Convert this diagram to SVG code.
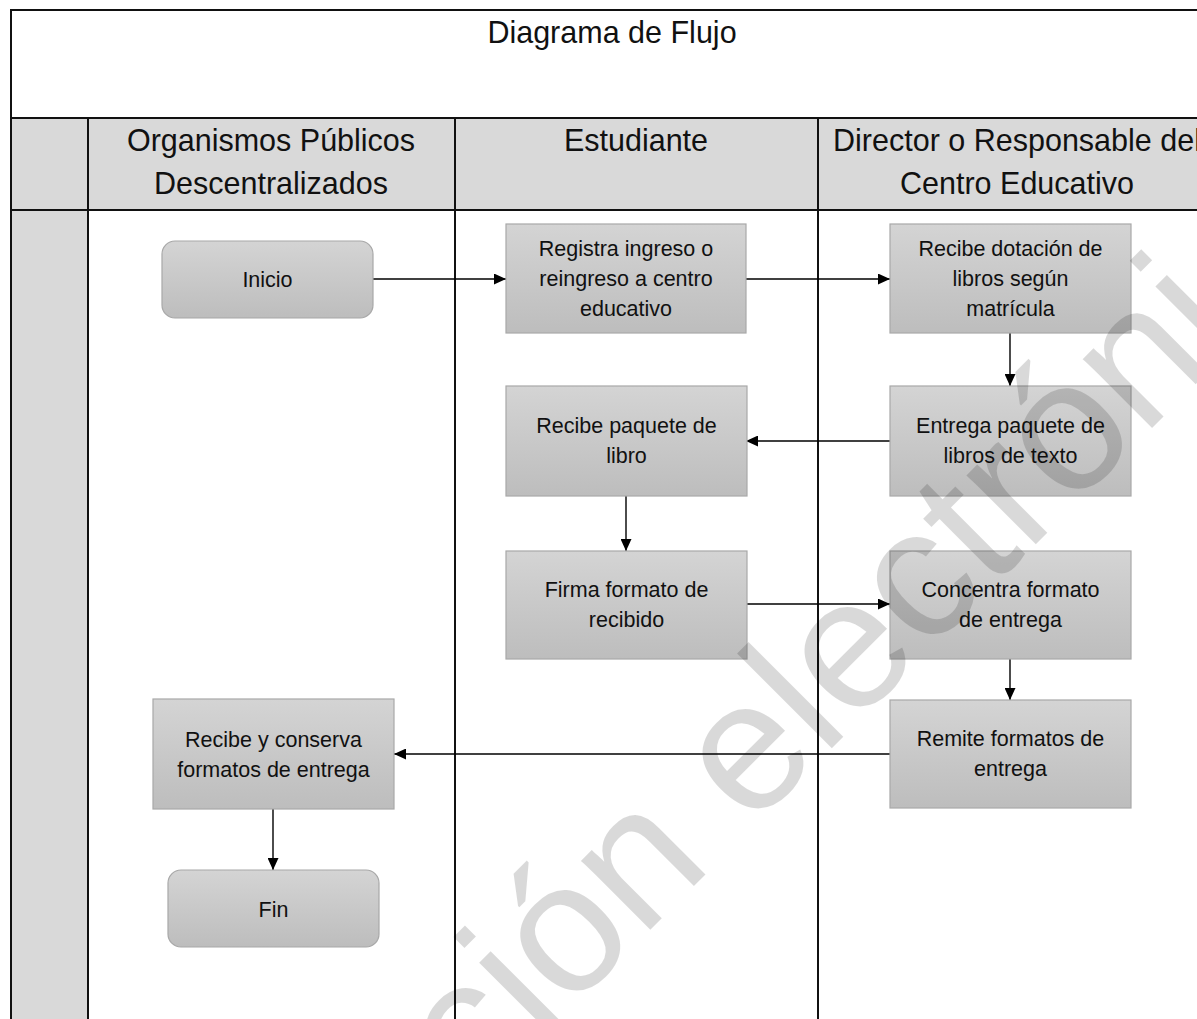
<svg xmlns="http://www.w3.org/2000/svg" width="1197" height="1019" viewBox="0 0 1197 1019">
<defs>
<linearGradient id="g" x1="0" y1="0" x2="0" y2="1"><stop offset="0" stop-color="#d4d4d4"/><stop offset="1" stop-color="#bdbdbd"/></linearGradient>
<marker id="arr" viewBox="0 0 12 11" refX="12" refY="5.5" markerWidth="12" markerHeight="11" markerUnits="userSpaceOnUse" orient="auto"><path d="M0,0 L12,5.5 L0,11 Z" fill="#000"/></marker>
</defs>
<style>
.lane{stroke:#111;stroke-width:2;fill:none}
.hdr{font-family:"Liberation Sans",Arial,sans-serif;font-size:30.5px;fill:#111;text-anchor:middle}
.box{fill:url(#g);stroke:#a8a8a8;stroke-width:1.2}
.lbl{font-family:"Liberation Sans",Arial,sans-serif;font-size:21.5px;fill:#111;text-anchor:middle}
.con{stroke:#000;stroke-width:1.4;fill:none;marker-end:url(#arr)}
.wm{font-family:"Liberation Sans",Arial,sans-serif;font-size:185px;fill:#000;fill-opacity:0.15}
</style>
<rect x="0" y="0" width="1197" height="1019" fill="#fff"/>
<g id="swimlanes">
<rect x="11" y="118" width="77" height="910" fill="#d9d9d9"/>
<rect x="88" y="118" width="1120" height="92" fill="#d9d9d9"/>
<path class="lane" d="M11,1025 V10 H1205 M11,118 H1205 M11,210 H1205 M88,118 V1025 M455,118 V1025 M818,118 V1025"/>
<text class="hdr" x="612" y="43">Diagrama de Flujo</text>
<text class="hdr" x="271" y="151">Organismos Públicos</text>
<text class="hdr" x="271" y="194">Descentralizados</text>
<text class="hdr" x="636" y="151">Estudiante</text>
<text class="hdr" x="1017" y="151">Director o Responsable del</text>
<text class="hdr" x="1017" y="194">Centro Educativo</text>
</g>
<g id="connectors">
<line class="con" x1="373" y1="279" x2="506" y2="279"/>
<line class="con" x1="745" y1="279" x2="890" y2="279"/>
<line class="con" x1="1010" y1="333" x2="1010" y2="386"/>
<line class="con" x1="890" y1="441" x2="746" y2="441"/>
<line class="con" x1="626" y1="496" x2="626" y2="551"/>
<line class="con" x1="747" y1="604" x2="890" y2="604"/>
<line class="con" x1="1010" y1="659" x2="1010" y2="700"/>
<line class="con" x1="890" y1="754" x2="394" y2="754"/>
<line class="con" x1="273" y1="809" x2="273" y2="870"/>
</g>
<g id="n_inicio"><rect class="box" x="162" y="241" width="211" height="77" rx="13"/><text class="lbl" x="267.5" y="286.5">Inicio</text></g>
<g id="n_registra"><rect class="box" x="506" y="224" width="240" height="109"/><text class="lbl" x="626" y="256">Registra ingreso o</text><text class="lbl" x="626" y="286">reingreso a centro</text><text class="lbl" x="626" y="316">educativo</text></g>
<g id="n_dotacion"><rect class="box" x="890" y="224" width="241" height="109"/><text class="lbl" x="1010.5" y="256">Recibe dotación de</text><text class="lbl" x="1010.5" y="286">libros según</text><text class="lbl" x="1010.5" y="316">matrícula</text></g>
<g id="n_recibe_paquete"><rect class="box" x="506" y="386" width="241" height="110"/><text class="lbl" x="626.5" y="433">Recibe paquete de</text><text class="lbl" x="626.5" y="463">libro</text></g>
<g id="n_entrega"><rect class="box" x="890" y="386" width="241" height="110"/><text class="lbl" x="1010.5" y="433">Entrega paquete de</text><text class="lbl" x="1010.5" y="463">libros de texto</text></g>
<g id="n_firma"><rect class="box" x="506" y="551" width="241" height="108"/><text class="lbl" x="626.5" y="597">Firma formato de</text><text class="lbl" x="626.5" y="627">recibido</text></g>
<g id="n_concentra"><rect class="box" x="890" y="551" width="241" height="108"/><text class="lbl" x="1010.5" y="597">Concentra formato</text><text class="lbl" x="1010.5" y="627">de entrega</text></g>
<g id="n_remite"><rect class="box" x="890" y="700" width="241" height="108"/><text class="lbl" x="1010.5" y="746">Remite formatos de</text><text class="lbl" x="1010.5" y="776">entrega</text></g>
<g id="n_conserva"><rect class="box" x="153" y="699" width="241" height="110"/><text class="lbl" x="273.5" y="747">Recibe y conserva</text><text class="lbl" x="273.5" y="777">formatos de entrega</text></g>
<g id="n_fin"><rect class="box" x="168" y="870" width="211" height="77" rx="13"/><text class="lbl" x="273.5" y="916.5">Fin</text></g>
<g id="watermark"><text class="wm" x="474" y="1106" transform="rotate(-45 474 1106)">ción electróni</text></g>
</svg>
